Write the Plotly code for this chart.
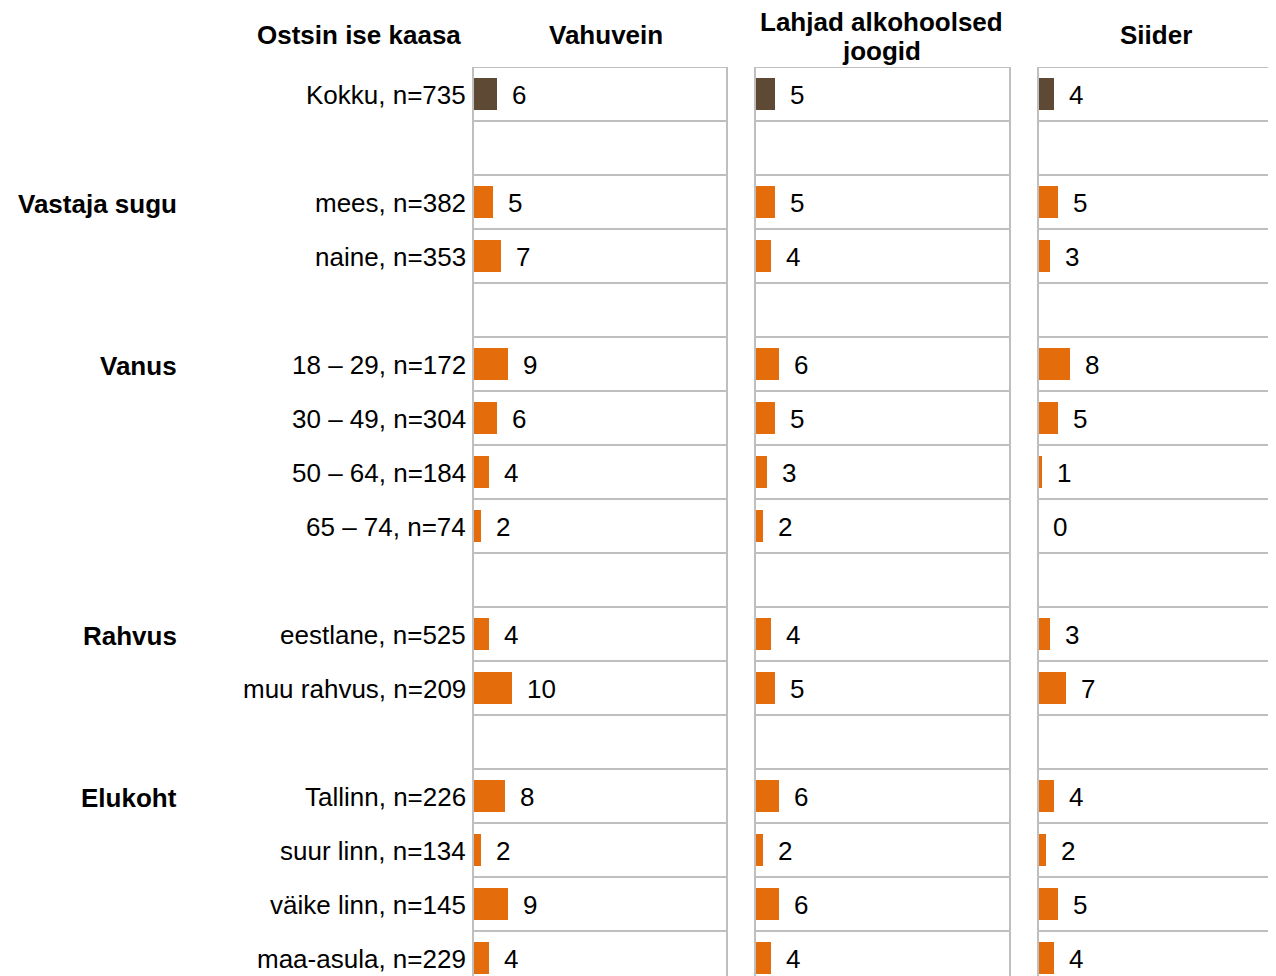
import plotly.graph_objects as go
from plotly.subplots import make_subplots

# ---- data ----
categories = ["Kokku, n=735", "", "mees, n=382", "naine, n=353", "",
              "18 – 29, n=172", "30 – 49, n=304", "50 – 64, n=184", "65 – 74, n=74", "",
              "eestlane, n=525", "muu rahvus, n=209", "",
              "Tallinn, n=226", "suur linn, n=134", "väike linn, n=145", "maa-asula, n=229"]
vahuvein = [6, None, 5, 7, None, 9, 6, 4, 2, None, 4, 10, None, 8, 2, 9, 4]
lahjad = [5, None, 5, 4, None, 6, 5, 3, 2, None, 4, 5, None, 6, 2, 6, 4]
siider = [4, None, 5, 3, None, 8, 5, 1, 0, None, 3, 7, None, 4, 2, 5, 4]
panel_titles = [["Vahuvein"], ["Lahjad alkohoolsed", "joogid"], ["Siider"]]
groups = [("Vastaja sugu", 2), ("Vanus", 5), ("Rahvus", 10), ("Elukoht", 13)]
corner_title = "Ostsin ise kaasa"

# ---- style ----
OFF = 8  # page body margin
PAGE_W, PAGE_H = 1276, 976
W, H = PAGE_W - OFF, PAGE_H - OFF
FONT = "Liberation Sans, Arial, sans-serif"
FS = 26
BROWN = "#5E4935"
ORANGE = "#E46C0A"
GRID = "#BFBFBF"
px_per_unit = 3.94
panel_px = [(473, 727), (755, 1010), (1038, 1276)]  # page pixels
top_px = 67
row_h = 54.0


def fx(px):
    return (px - OFF) / W


def fy(py):
    return 1 - (py - OFF) / H


fig = make_subplots(rows=1, cols=3, shared_yaxes=True)
rows = list(range(len(categories)))
series = [vahuvein, lahjad, siider]
colors = [BROWN] + [ORANGE] * (len(categories) - 1)

annotations = []
shapes = []
for k, vals in enumerate(series):
    col = k + 1
    fig.add_trace(go.Bar(x=vals, y=rows, orientation="h", width=0.6,
                         marker=dict(color=colors, line=dict(width=0)),
                         hoverinfo="skip", showlegend=False), row=1, col=col)
    xs = "" if k == 0 else str(k + 1)
    for i, v in enumerate(vals):
        if v is None:
            continue
        annotations.append(dict(x=v, y=i, xref="x" + xs, yref="y" + xs, text=str(v),
                                showarrow=False, xanchor="left", yanchor="middle",
                                xshift=13, yshift=-1,
                                font=dict(family=FONT, size=FS, color="#000")))
    for i in range(len(categories) + 1):
        shapes.append(dict(type="line", xref="x" + xs + " domain", yref="y" + xs,
                           x0=0, x1=1, y0=i - 0.5, y1=i - 0.5,
                           line=dict(color=GRID, width=2), layer="above"))
    edges = [0, 1] if k < 2 else [0]
    for e in edges:
        shapes.append(dict(type="line", xref="x" + xs + " domain", yref="y" + xs,
                           x0=e, x1=e, y0=-0.5, y1=len(categories) - 0.5,
                           line=dict(color=GRID, width=2), layer="above"))

for i, c in enumerate(categories):
    if c:
        annotations.append(dict(x=fx(468), y=i, xref="paper", yref="y", text=c,
                                showarrow=False, xanchor="right", yanchor="middle", yshift=-1,
                                font=dict(family=FONT, size=FS, color="#000")))
for g, i in groups:
    annotations.append(dict(x=fx(179), y=i, xref="paper", yref="y", text="<b>%s</b>" % g,
                            showarrow=False, xanchor="right", yanchor="middle", yshift=-2,
                            font=dict(family=FONT, size=FS, color="#000")))
annotations.append(dict(x=fx(463), y=fy(35), xref="paper", yref="paper",
                        text="<b>%s</b>" % corner_title, showarrow=False,
                        xanchor="right", yanchor="middle",
                        font=dict(family=FONT, size=FS, color="#000")))
title_centers = [606, 881, 1156]
for lines, cx in zip(panel_titles, title_centers):
    if len(lines) == 1:
        annotations.append(dict(x=fx(cx), y=fy(35), xref="paper", yref="paper",
                                text="<b>%s</b>" % lines[0], showarrow=False,
                                xanchor="center", yanchor="middle",
                                font=dict(family=FONT, size=FS, color="#000")))
    else:
        for t, yy in zip(lines, [22, 51]):
            annotations.append(dict(x=fx(cx), y=fy(yy), xref="paper", yref="paper",
                                    text="<b>%s</b>" % t, showarrow=False, height=28,
                                    xanchor="center", yanchor="middle",
                                    font=dict(family=FONT, size=FS, color="#000")))

ytop = -0.5
ybot = -0.5 + (PAGE_H - top_px) / row_h
layout = dict(width=W, height=H, margin=dict(l=0, r=0, t=0, b=0),
              paper_bgcolor="white", plot_bgcolor="white",
              annotations=annotations, shapes=shapes, bargap=0)
for k, (a, b) in enumerate(panel_px):
    xs = "" if k == 0 else str(k + 1)
    layout["xaxis" + xs] = dict(domain=[fx(a), min(fx(b), 1.0)],
                                range=[0, (b - a) / px_per_unit],
                                showgrid=False, zeroline=False, showticklabels=False,
                                showline=False, ticks="", fixedrange=True)
    layout["yaxis" + xs] = dict(domain=[0, fy(top_px)], range=[ybot, ytop],
                                showgrid=False, zeroline=False, showticklabels=False,
                                showline=False, ticks="", fixedrange=True)
fig.update_layout(**layout)
fig.write_html("out.html", config={"displayModeBar": False})
